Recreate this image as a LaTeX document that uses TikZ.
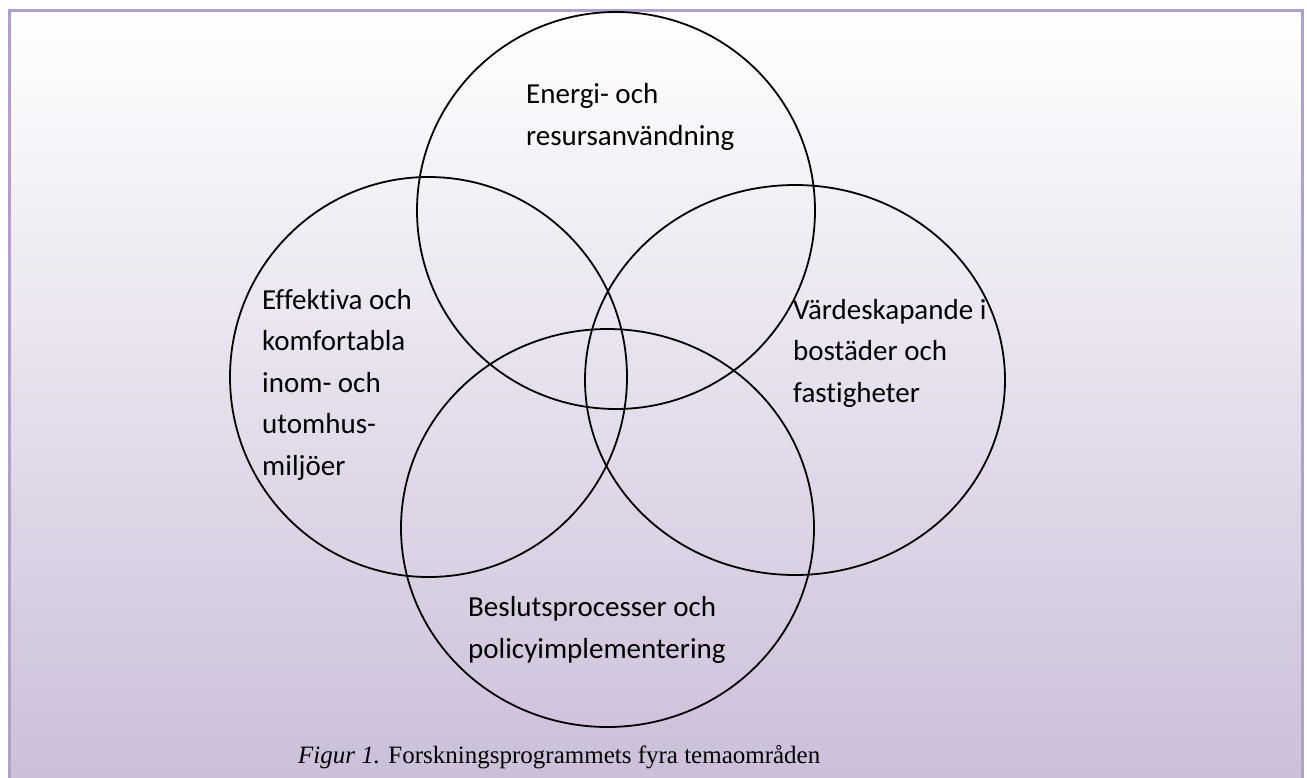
\documentclass[tikz,border=0pt]{standalone}
\usepackage{fontspec}
\setmainfont{Carlito}[Ligatures={NoCommon}]
\newfontfamily\captionserif{Liberation Serif}
\definecolor{FrameLilac}{RGB}{178,160,204}
\definecolor{ShadeLilac}{RGB}{203,190,217}
\usetikzlibrary{shapes.geometric}

\begin{document}
\begin{tikzpicture}[
    x=1pt, y=-1pt,
    ring/.style={ellipse, draw=black, line width=1.8pt, inner sep=0pt},
    theme/.style={anchor=base west, align=left, inner sep=0pt,
                  font=\fontsize{29}{41.5}\selectfont},
    caption/.style={anchor=base west, inner sep=0pt,
                    font=\captionserif\fontsize{25}{30}\selectfont}
]
\useasboundingbox (0,0) rectangle (1307,777);
\clip (0,0) rectangle (1307,777);

% background panel
\shade[top color=white, bottom color=ShadeLilac] (9,10) rectangle (1302,790);
\draw[FrameLilac, line width=3pt] (9,790) -- (9,10) -- (1302,10) -- (1302,790);

% the four theme areas
\node[ring, minimum width=398pt, minimum height=397pt] (energiring) at (616,210.5) {};
\node[ring, minimum width=397pt, minimum height=400pt] (effektivaring) at (428.5,377) {};
\node[ring, minimum width=420pt, minimum height=390pt] (varderring) at (795,380) {};
\node[ring, minimum width=413pt, minimum height=398pt] (beslutring) at (607.5,528) {};

% labels (anchored at the baseline of their last line)
\node[theme] (energi) at (526,145) {Energi- och\\resursanvändning};
\node[theme] (effektiva) at (262,475) {Effektiva och\\komfortabla\\inom- och\\utomhus-\\miljöer};
\begin{scope}
  \clip (795,380) ellipse [x radius=210pt, y radius=195pt];
  \node[theme] (varde) at (793,402) {Värdeskapande i\\bostäder och\\fastigheter};
\end{scope}
\node[theme] (beslut) at (468,658) {Beslutsprocesser och\\policyimplementering};

\node[caption] (figur) at (298,763) {\textit{Figur 1.} Forskningsprogrammets fyra temaområden};
\end{tikzpicture}
\end{document}
